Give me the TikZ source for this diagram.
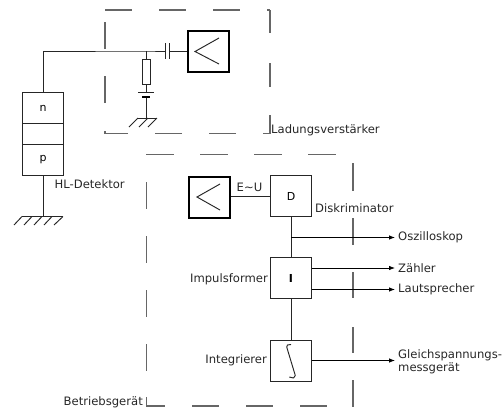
\documentclass[tikz,border=0pt]{standalone}
\usepackage{fontspec}
\setmainfont{DejaVu Sans}
\usetikzlibrary{arrows.meta}
\tikzset{
 x=1pt,y=-1pt,
 wire/.style={draw=black!85,line width=0.95pt},
 frame/.style={draw=black!60,line width=1.2pt},
 pbox/.style={draw=black!85,line width=0.95pt,fill=white,minimum width=41.5pt,minimum height=41pt,inner sep=0pt,font=\fontsize{11}{13}\selectfont},
 ampbox/.style={draw=black,line width=2pt,fill=white,minimum width=41pt,minimum height=41pt,inner sep=0pt},
 lab/.style={inner sep=0pt,font=\fontsize{11.6}{13}\selectfont,text=black!85},
 arr/.style={draw=black,line width=0.8pt,shorten >=3pt,-{Latex[length=6pt,width=4.5pt]}},
}
\begin{document}
\begin{tikzpicture}
\useasboundingbox (0,0) rectangle (502,407);
% dashed frames
\foreach \a/\b in {105/132,159/186,213/240,267/270} \draw[frame] (\a,10)--(\b,10);
\foreach \a/\b in {10/33,63/87,115/133.5} \draw[frame] (270,\a)--(270,\b);
\foreach \a/\b in {270/263,236/209,182/155,128/105} \draw[frame] (\a,133.5)--(\b,133.5);
\foreach \a/\b in {133.5/131,103/76,49/22} \draw[frame] (105,\a)--(105,\b);
\foreach \a/\b in {146/174,200/228,254/282,308/336} \draw[frame] (\a,154.5)--(\b,154.5);
\foreach \a/\b in {163/191,218/245,272/298,327/353,380/407} \draw[frame] (353,\a)--(353,\b);
\foreach \a/\b in {182/209,236/263,290/317,344/371,397/406} \draw[frame] (146.5,\a)--(146.5,\b);
\foreach \a/\b in {146/165,192/219,246/273,300/327} \draw[frame] (\a,406)--(\b,406);
% detector
\node[pbox,minimum width=41pt,minimum height=31.5pt] (n) at (43,108.2) {n};
\node[pbox,minimum width=41pt,minimum height=20.5pt] (mid) at (43,134) {};
\node[pbox,minimum width=41pt,minimum height=31pt] (p) at (43,159.5) {p};
\node[lab,anchor=west] (hl) at (54.5,184) {HL-Detektor};
% amplifier 1
\node[ampbox] (a1) at (208.3,51) {};
\draw[wire] (219,38)--(195,51.5)--(219,64);
\coordinate (j) at (146,51);
\coordinate (c1) at (165,51);
\coordinate (c2) at (169.5,51);
\coordinate (corner) at (43,51);
\draw[wire] (n.north) -- (corner) -- (j) -- (c1);
\draw[wire] (c2) -- (a1.west);
\draw[wire] (165,43)--(165,59);
\draw[wire] (169.5,43)--(169.5,59);
\node[draw=black!85,line width=0.9pt,fill=white,minimum width=8pt,minimum height=25pt,inner sep=0pt] (r) at (146,71.5) {};
\coordinate (b1) at (146,92.5);
\coordinate (b2) at (146,96.7);
\coordinate (g1) at (146,118);
\draw[wire] (j) -- (r.north);
\draw[wire] (r.south) -- (b1);
\draw[wire] (b2) -- (g1);
\draw[wire] (138,92.5)--(154,92.5);
\draw[draw=black,line width=2pt] (142,96.7)--(150,96.7);
\draw[wire] (138,118)--(157,118);
\foreach \s/\e in {138/129,148/139,157/148} \draw[wire] (\s,118)--(\e,127);
% detector ground
\coordinate (g2) at (43,216.5);
\draw[wire] (p.south) -- (g2);
\draw[wire] (22,216.5)--(63,216.5);
\foreach \s/\e in {22/14,32/24,42/34,52/44,63/54} \draw[wire] (\s,216.5)--(\e,225);
% lower chain
\node[ampbox] (a2) at (209.5,197) {};
\draw[wire] (220,184)--(197,197)--(220,210);
\node[pbox] (d) at (291,196) {D};
\node[pbox,font=\fontsize{11}{13}\selectfont\bfseries] (i) at (291,278) {I};
\node[pbox] (s) at (291,360.5) {};
\draw[wire,line join=round] (291,344.5) -- (287.5,345) -- (286.7,347) -- (295.3,375.5) -- (293.5,378) -- (289.3,377);
\draw[wire] (a2.east |- d.west) -- (d.west);
\draw[wire] (d.south) -- (i.north);
\draw[wire] (i.south) -- (s.north);
\coordinate (tap) at (291,237.5);
\node[lab,anchor=west] (osz) at (398,237.5) {Oszilloskop};
\node[lab,anchor=west] (zae) at (398,268) {Zähler};
\node[lab,anchor=west] (lau) at (398,289.5) {Lautsprecher};
\node[lab,anchor=west] (gl1) at (398,355) {Gleichspannungs-};
\node[lab,anchor=west] (gl2) at (398,368) {messgerät};
\draw[arr] (tap) -- (osz.west);
\draw[arr] (i.east |- zae.west) -- (zae.west);
\draw[arr] (i.east |- lau.west) -- (lau.west);
\coordinate (gl) at (398,360.5);
\draw[arr] (s.east) -- (gl);
\node[lab] (eu) at (249.5,187) {E\char"7EU};
\node[lab,anchor=west] (dis) at (315,208.5) {Diskriminator};
\node[lab,anchor=east] (imp) at (268,279) {Impulsformer};
\node[lab,anchor=east] (int) at (267,360) {Integrierer};
\node[lab,anchor=east] (bet) at (143,402) {Betriebsgerät};
\node[lab,anchor=west] (lad) at (271,130) {Ladungsverstärker};
\end{tikzpicture}
\end{document}
